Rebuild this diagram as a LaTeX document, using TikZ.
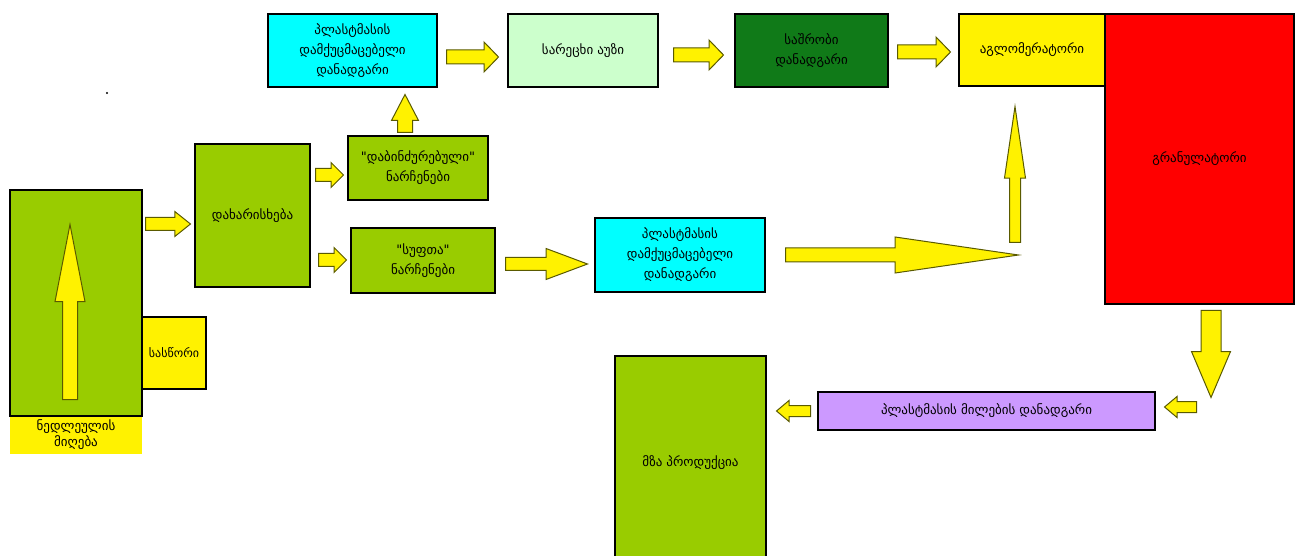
\documentclass[tikz,border=0pt]{standalone}
\usepackage{fontspec}
\setmainfont{DejaVu Sans}
\usetikzlibrary{shapes.arrows}
\definecolor{leafgreen}{RGB}{153,204,0}
\definecolor{aqua}{RGB}{0,255,255}
\definecolor{palegreen}{RGB}{204,255,204}
\definecolor{darkgreen}{RGB}{16,122,24}
\definecolor{lilac}{RGB}{204,153,255}
\definecolor{arrowline}{RGB}{90,90,0}
\tikzset{
  box/.style={draw=black, line width=1.5pt, align=center, inner sep=2pt,
    font=\fontsize{13}{20}\selectfont},
  blockarrow/.style={single arrow, draw=arrowline, fill=yellow, line width=1pt,
    inner xsep=0pt, single arrow head indent=0pt, anchor=tail},
}
\begin{document}
\begin{tikzpicture}[x=1pt,y=-1pt]
\useasboundingbox (0,0) rectangle (1302,556);
\fill (107,93) circle (1.2);
% boxes
\node[box, fill=leafgreen, minimum width=132pt, minimum height=226pt] (raw) at (76,303) {};
\node[box, draw=none, fill=yellow, minimum width=132pt, minimum height=37pt,
  font=\fontsize{13}{16}\selectfont] (rawlbl) at (76,435) {ნედლეულის\\მიღება};
\node[box, fill=yellow, minimum width=64pt, minimum height=72pt,
  font=\fontsize{12}{14}\selectfont] (scale) at (174,353) {სასწორი};
\node[box, fill=leafgreen, minimum width=115pt, minimum height=143pt] (sort) at (252.5,215.5) {დახარისხება};
\node[box, fill=leafgreen, minimum width=140pt, minimum height=64pt] (dirty) at (418,168) {\textquotedbl დაბინძურებული\textquotedbl\\ნარჩენები};
\node[box, fill=leafgreen, minimum width=144pt, minimum height=65pt] (clean) at (423,260.5) {\textquotedbl სუფთა\textquotedbl\\ნარჩენები};
\node[box, fill=aqua, minimum width=169pt, minimum height=73pt] (shredA) at (352.5,50.5) {პლასტმასის\\დამქუცმაცებელი\\დანადგარი};
\node[box, fill=palegreen, minimum width=150pt, minimum height=73pt] (wash) at (583,50.5) {სარეცხი აუზი};
\node[box, fill=darkgreen, minimum width=153pt, minimum height=73pt] (dry) at (811.5,50.5) {საშრობი\\დანადგარი};
\node[box, fill=yellow, minimum width=146pt, minimum height=72pt] (aggl) at (1032,50) {აგლომერატორი};
\node[box, fill=red, minimum width=189pt, minimum height=290pt] (gran) at (1199.5,159) {გრანულატორი};
\node[box, fill=aqua, minimum width=170pt, minimum height=74pt] (shredB) at (680,255) {პლასტმასის\\დამქუცმაცებელი\\დანადგარი};
\node[box, fill=lilac, minimum width=337pt, minimum height=38pt] (pipe) at (986.5,411) {პლასტმასის მილების დანადგარი};
\node[box, fill=leafgreen, minimum width=151pt, minimum height=214pt] (prod) at (690.5,463) {მზა პროდუქცია};
% arrows (placed by their tails)
\node[blockarrow, rotate=90, minimum height=175pt, inner ysep=7pt,
  single arrow head extend=7.5pt, single arrow tip angle=22] (aRaw) at (70,400) {};
\node[blockarrow, minimum height=45pt, inner ysep=6pt,
  single arrow head extend=6pt, single arrow tip angle=77] (aSort) at (145,224) {};
\node[blockarrow, minimum height=28pt, inner ysep=6pt,
  single arrow head extend=6pt, single arrow tip angle=90] (aDirty) at (315,175) {};
\node[blockarrow, minimum height=28pt, inner ysep=6pt,
  single arrow head extend=6pt, single arrow tip angle=90] (aClean) at (318,260) {};
\node[blockarrow, rotate=90, minimum height=38pt, inner ysep=7pt,
  single arrow head extend=6pt, single arrow tip angle=55] (aUp) at (405,133) {};
\node[blockarrow, minimum height=52pt, inner ysep=6.5pt,
  single arrow head extend=8pt, single arrow tip angle=92] (aWash) at (446,57) {};
\node[blockarrow, minimum height=50pt, inner ysep=6.5pt,
  single arrow head extend=8pt, single arrow tip angle=92] (aDry) at (673,55) {};
\node[blockarrow, minimum height=53pt, inner ysep=6.5pt,
  single arrow head extend=8pt, single arrow tip angle=92] (aAggl) at (897,52) {};
\node[blockarrow, minimum height=82pt, inner ysep=6pt,
  single arrow head extend=9pt, single arrow tip angle=41] (aShred) at (505,264) {};
\node[blockarrow, minimum height=233pt, inner ysep=6.5pt,
  single arrow head extend=11pt, single arrow tip angle=16.6] (aLong) at (785,255) {};
\node[blockarrow, rotate=90, minimum height=136pt, inner ysep=5pt,
  single arrow head extend=5pt, single arrow tip angle=16.7] (aRise) at (1015,243) {};
\node[blockarrow, rotate=270, minimum height=87pt, inner ysep=9.5pt,
  single arrow head extend=9.5pt, single arrow tip angle=46] (aDown) at (1211,310) {};
\node[blockarrow, rotate=180, minimum height=32pt, inner ysep=5pt,
  single arrow head extend=5pt, single arrow tip angle=80] (aPipe) at (1197,407) {};
\node[blockarrow, rotate=180, minimum height=34pt, inner ysep=5pt,
  single arrow head extend=5pt, single arrow tip angle=80] (aProd) at (811,411) {};
\end{tikzpicture}
\end{document}
